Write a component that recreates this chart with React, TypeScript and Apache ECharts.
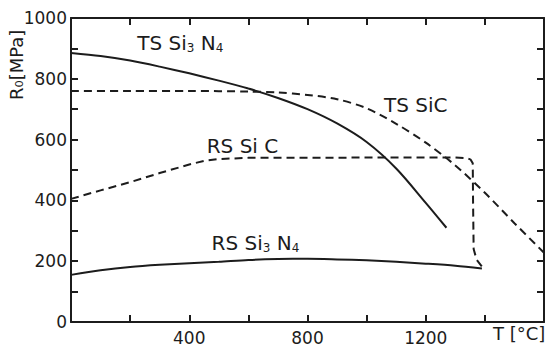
import React, { useEffect, useRef } from "react";
import * as echarts from "echarts";

// Temperature (°C) / strength (MPa) readings
const tsSi3N4T = [0, 100, 200, 300, 400, 500, 600, 700, 800, 900, 1000, 1100, 1200, 1270];
const tsSi3N4V = [885, 875, 860, 840, 818, 794, 768, 737, 700, 653, 592, 505, 392, 310];

const tsSiCT = [0, 200, 400, 600, 700, 800, 900, 1000, 1100, 1200, 1300, 1400, 1500, 1600];
const tsSiCV = [760, 760, 760, 758, 755, 747, 733, 703, 652, 590, 515, 425, 325, 228];

const rsSiCT = [0, 100, 200, 300, 400, 450, 500, 600, 800, 1000, 1200, 1300, 1340, 1352, 1359, 1360, 1362, 1372, 1390];
const rsSiCV = [405, 433, 460, 490, 518, 530, 536, 540, 540, 541, 541, 541, 539, 534, 522, 400, 240, 205, 182];

const rsSi3N4T = [0, 100, 200, 300, 400, 500, 600, 700, 800, 900, 1000, 1100, 1200, 1300, 1390];
const rsSi3N4V = [155, 170, 181, 188, 193, 198, 204, 207, 208, 206, 203, 198, 192, 185, 176];

const xLabels = [400, 800, 1200];
const yLabels = [0, 200, 400, 600, 800, 1000];

const FONT = "DejaVu Sans";
const INK = "#1c1c1c";

const zip = (t: number[], v: number[]) => t.map((x, i) => [x, v[i]]);

const richStyles = {
  a: { fontSize: 20, fontFamily: FONT, color: INK },
  s: { fontSize: 12, fontFamily: FONT, color: INK, padding: [10, 0, 0, 0] },
};

const labelPoint = (coord: number[], text: string) => ({
  coord,
  symbol: "circle",
  symbolSize: 1,
  itemStyle: { color: "rgba(0,0,0,0)" },
  label: {
    show: true,
    position: "inside",
    formatter: text,
    rich: richStyles,
  },
});

export default function App() {
  const ref = useRef<HTMLDivElement>(null);
  useEffect(() => {
    if (!ref.current) return;
    const chart = echarts.init(ref.current, undefined, { renderer: "svg" });
    const lineBase = (dashed: boolean) => ({
      type: "line" as const,
      showSymbol: false,
      symbol: "none",
      xAxisIndex: 0,
      yAxisIndex: 0,
      lineStyle: {
        color: INK,
        width: 2,
        type: dashed ? [8, 5] : "solid",
      },
    });
    const axisCommon = {
      type: "value" as const,
      axisLine: { show: true, onZero: false, lineStyle: { color: INK, width: 2 } },
      axisTick: { show: true, inside: true, length: 7, lineStyle: { color: INK, width: 2 } },
      splitLine: { show: false },
    };
    chart.setOption({
      animation: false,
      backgroundColor: "#ffffff",
      grid: { left: 71, right: 2, top: 18, bottom: 26, containLabel: false },
      xAxis: [
        {
          ...axisCommon,
          position: "bottom",
          min: 0,
          max: 1600,
          interval: 200,
          axisLabel: {
            show: true,
            margin: 7,
            fontSize: 17,
            fontFamily: FONT,
            color: INK,
            formatter: (v: number) => (xLabels.includes(v) ? String(v) : ""),
          },
        },
        {
          ...axisCommon,
          position: "top",
          min: 0,
          max: 1600,
          interval: 200,
          axisLabel: { show: false },
        },
      ],
      yAxis: [
        {
          ...axisCommon,
          position: "left",
          min: 0,
          max: 1000,
          interval: 100,
          axisLabel: {
            show: true,
            margin: 4,
            fontSize: 17,
            fontFamily: FONT,
            color: INK,
            formatter: (v: number) => (yLabels.includes(v) ? String(v) : ""),
          },
        },
        {
          ...axisCommon,
          position: "right",
          min: 0,
          max: 1000,
          interval: 100,
          axisLabel: { show: false },
        },
      ],
      series: [
        {
          ...lineBase(false),
          name: "TS Si3N4",
          smooth: 0.3,
          data: zip(tsSi3N4T, tsSi3N4V),
          markPoint: { data: [labelPoint([370, 918], "{a|TS Si}{s|3}{a| N}{s|4}")] },
        },
        {
          ...lineBase(true),
          name: "TS SiC",
          smooth: 0.3,
          data: zip(tsSiCT, tsSiCV),
          markPoint: { data: [labelPoint([1166, 714], "{a|TS SiC}")] },
        },
        {
          ...lineBase(true),
          name: "RS SiC",
          smooth: false,
          data: zip(rsSiCT, rsSiCV),
          markPoint: { data: [labelPoint([580, 578], "{a|RS Si C}")] },
        },
        {
          ...lineBase(false),
          name: "RS Si3N4",
          smooth: 0.3,
          data: zip(rsSi3N4T, rsSi3N4V),
          markPoint: { data: [labelPoint([624, 259], "{a|RS Si}{s|3}{a| N}{s|4}")] },
        },
      ],
      graphic: [
        {
          type: "text",
          left: 493,
          top: 324,
          style: { text: "T [°C]", fontSize: 18, fontFamily: FONT, fill: INK },
        },
        {
          type: "text",
          x: 7,
          y: 100,
          rotation: Math.PI / 2,
          style: { text: "R₀[MPa]", fontSize: 18, fontFamily: FONT, fill: INK },
        },
      ],
    });
    return () => chart.dispose();
  }, []);
  return (
    <div
      ref={ref}
      style={{ position: "fixed", left: 0, top: 0, width: 547, height: 348, background: "#fff" }}
    />
  );
}
